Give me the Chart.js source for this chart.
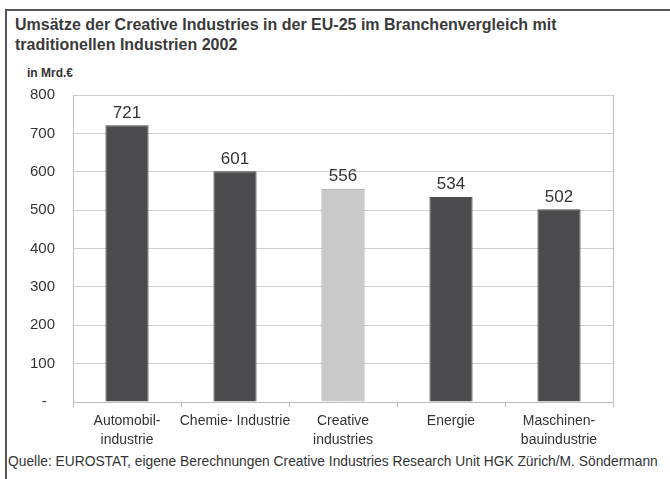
<!DOCTYPE html>
<html>
<head>
<meta charset="utf-8">
<script src="https://cdn.jsdelivr.net/npm/chart.js@4"></script>
<style>
  html, body { margin: 0; padding: 0; background: #fff; }
  body { width: 670px; height: 479px; position: relative; overflow: hidden; font-family: "Liberation Sans", Arial, sans-serif; color: #333; }
  #frame { position: absolute; left: 5px; top: 9px; right: -10px; bottom: -10px; border-top: 2px solid #555; border-left: 2px solid #555; }
  #title { position: absolute; left: 15px; top: 15px; font-weight: bold; font-size: 16px; line-height: 20px; color: #3a3a3a; }
  #unit { position: absolute; left: 27px; top: 66px; font-weight: bold; font-size: 12px; }
  #box { position: absolute; left: 0; top: 68px; width: 630px; height: 384px; }
  #source { position: absolute; left: 8px; top: 454px; font-size: 13.8px; white-space: nowrap; }
</style>
</head>
<body>
<div id="frame"></div>
<div id="title">Umsätze der Creative Industries in der EU-25 im Branchenvergleich mit<br>traditionellen Industrien 2002</div>
<div id="unit">in Mrd.€</div>
<div id="box"><canvas id="umsatzChart"></canvas></div>
<div id="source">Quelle: EUROSTAT, eigene Berechnungen Creative Industries Research Unit HGK Zürich/M. Söndermann</div>
<script>
// Daten
const branchen = [["Automobil-", "industrie"], ["Chemie- Industrie"], ["Creative", "industries"], ["Energie"], ["Maschinen-", "bauindustrie"]];
const umsatz = [721, 601, 556, 534, 502];
const balkenFarben = ["#4b4b4e", "#4b4b4e", "#c9c9c9", "#4b4b4e", "#4b4b4e"];
const randFarben = ["#4b4b4e", "#4b4b4e", "#9a9a9a", "#4b4b4e", "#4b4b4e"];

// Rahmen um die Zeichenfläche
const plotRahmen = {
  id: "plotRahmen",
  beforeDatasetsDraw(chart) {
    const { ctx, chartArea: a } = chart;
    ctx.save();
    ctx.strokeStyle = "#bdbdbd";
    ctx.lineWidth = 1;
    ctx.beginPath();
    ctx.moveTo(a.right + 0.5, a.top);
    ctx.lineTo(a.right + 0.5, a.bottom);
    ctx.stroke();
    ctx.restore();
  }
};

// Werte über den Balken
const wertLabels = {
  id: "wertLabels",
  afterDatasetsDraw(chart) {
    const { ctx } = chart;
    const meta = chart.getDatasetMeta(0);
    ctx.save();
    ctx.font = "17px 'Liberation Sans', Arial, sans-serif";
    ctx.fillStyle = "#333";
    ctx.textAlign = "center";
    ctx.textBaseline = "bottom";
    meta.data.forEach((bar, i) => {
      ctx.fillText(umsatz[i], bar.x, bar.y - 4);
    });
    ctx.restore();
  }
};

const chartCanvas = document.getElementById("umsatzChart");
new Chart(chartCanvas, {
  type: "bar",
  data: {
    labels: branchen,
    datasets: [{
      data: umsatz,
      backgroundColor: balkenFarben,
      borderColor: randFarben,
      borderWidth: 1,
      barPercentage: 0.4,
      categoryPercentage: 1
    }]
  },
  options: {
    responsive: true,
    maintainAspectRatio: false,
    animation: false,
    layout: { padding: { top: 8, right: 17, left: 0, bottom: 0 } },
    plugins: { legend: { display: false }, tooltip: { enabled: false } },
    scales: {
      y: {
        min: 0,
        max: 800,
        ticks: {
          stepSize: 100,
          padding: 18,
          color: "#333",
          font: { family: "'Liberation Sans', Arial, sans-serif", size: 15 },
          callback: v => v === 0 ? "-  " : v
        },
        grid: { color: "#cfcfcf", drawTicks: false },
        border: { color: "#bdbdbd" },
        afterFit(axis) { axis.width = 73; }
      },
      x: {
        ticks: {
          padding: 5,
          color: "#333",
          font: { family: "'Liberation Sans', Arial, sans-serif", size: 14, lineHeight: 1.35 },
          maxRotation: 0,
          autoSkip: false
        },
        grid: { offset: true, drawOnChartArea: false, drawTicks: true, tickLength: 5, color: "#bdbdbd" },
        border: { color: "#bdbdbd" },
        afterFit(axis) { axis.height = 50; }
      }
    }
  },
  plugins: [plotRahmen, wertLabels]
});
</script>
</body>
</html>
